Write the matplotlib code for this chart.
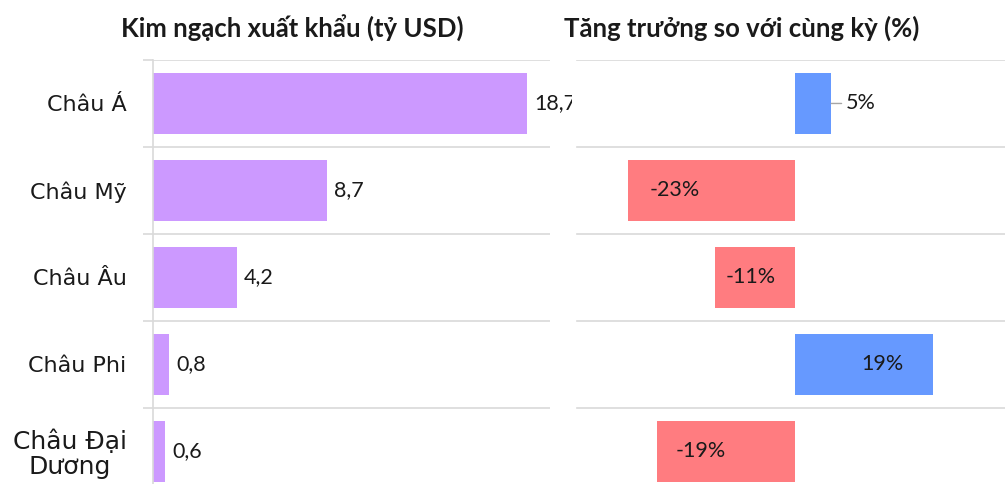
import matplotlib.pyplot as plt
from matplotlib.ticker import FixedLocator

# data
regions = ["Châu Á", "Châu Mỹ", "Châu Âu", "Châu Phi", "Châu Đại\nDương"]
export_values = [18.7, 8.7, 4.2, 0.8, 0.6]
export_labels = ["18,7", "8,7", "4,2", "0,8", "0,6"]
growth_values = [5, -23, -11, 19, -19]
growth_labels = ["5%", "-23%", "-11%", "19%", "-19%"]

left_title = "Kim ngạch xuất khẩu (tỷ USD)"
right_title = "Tăng trưởng so với cùng kỳ (%)"

# styles
purple = "#CC99FF"
blue = "#6699FF"
red = "#FF7C80"
grid_colour = "#D9D9D9"
text_colour = "#1a1a1a"
label_font = "Lato"
value_size = 15.5
bar_height = 0.7
y_pos = list(range(len(regions)))
boundaries = [i - 0.5 for i in range(len(regions) + 1)]

fig = plt.figure(figsize=(10.05, 4.84), dpi=100)
fig.patch.set_facecolor("white")

axes_bottom = -0.0227
axes_height = 0.8988

# left chart: export turnover
left_axis = fig.add_axes([153 / 1005, axes_bottom, 397 / 1005, axes_height])
left_axis.barh(y_pos, export_values, height=bar_height, color=purple, zorder=2)
left_axis.set_xlim(0, 19.85)
left_axis.set_ylim(boundaries[-1], boundaries[0])
left_axis.set_xticks([])
left_axis.set_yticks(y_pos)
left_axis.set_yticklabels(regions, fontsize=16, family="DejaVu Sans",
                          multialignment="center", color=text_colour, linespacing=1.05)
# the two-line label is drawn a little larger in the original
left_axis.get_yticklabels()[-1].set_fontsize(18)
left_axis.tick_params(axis="y", which="major", length=0, pad=19)
left_axis.yaxis.set_minor_locator(FixedLocator(boundaries))
left_axis.tick_params(axis="y", which="minor", length=7.5, color=grid_colour, width=1.2)
left_axis.grid(axis="y", which="minor", color=grid_colour, linewidth=1.2, zorder=0)
for side in ["top", "right", "bottom"]:
    left_axis.spines[side].set_visible(False)
left_axis.spines["left"].set_color(grid_colour)
left_axis.spines["left"].set_linewidth(1.2)
for y, v, lab in zip(y_pos, export_values, export_labels):
    left_axis.text(v + 0.35, y, lab, va="center", ha="left", fontsize=value_size,
                   family=label_font, color=text_colour, clip_on=False)

# right chart: growth vs same period (white panel hides the overflowing label)
right_axis = fig.add_axes([572 / 1005, axes_bottom, 433 / 1005, axes_height])
right_axis.set_facecolor("white")
growth_colours = [blue if v > 0 else red for v in growth_values]
right_axis.barh(y_pos, growth_values, height=bar_height, color=growth_colours, zorder=2)
right_axis.set_xlim(-30.76, 28.97)
right_axis.set_ylim(boundaries[-1], boundaries[0])
right_axis.set_xticks([])
right_axis.set_yticks([])
for b in boundaries:
    right_axis.axhline(b, xmin=0.0115, xmax=1, color=grid_colour, linewidth=1.2, zorder=0)
for side in right_axis.spines:
    right_axis.spines[side].set_visible(False)
for y, v, lab in zip(y_pos, growth_values, growth_labels):
    if abs(v) < 8:
        right_axis.annotate(lab, xy=(v, y), xytext=(v + 2.0, y), va="center", ha="left",
                            fontsize=value_size, family=label_font, color=text_colour,
                            arrowprops=dict(arrowstyle="-", color="#a6a6a6", lw=1,
                                            shrinkA=1, shrinkB=0))
    elif v > 0:
        right_axis.text(v - 4, y, lab, va="center", ha="right", fontsize=value_size,
                        family=label_font, color=text_colour, zorder=3)
    else:
        right_axis.text(v + 0.13 * abs(v), y, lab, va="center", ha="left",
                        fontsize=value_size, family=label_font, color=text_colour, zorder=3)

# titles
fig.text(292 / 1005, 1 - 28 / 484, left_title, ha="center", va="center",
         fontsize=18.5, fontweight="bold", family=label_font, color=text_colour)
fig.text(742 / 1005, 1 - 28 / 484, right_title, ha="center", va="center",
         fontsize=18.5, fontweight="bold", family=label_font, color=text_colour)

fig.savefig("out.png", dpi=100, facecolor="white")
